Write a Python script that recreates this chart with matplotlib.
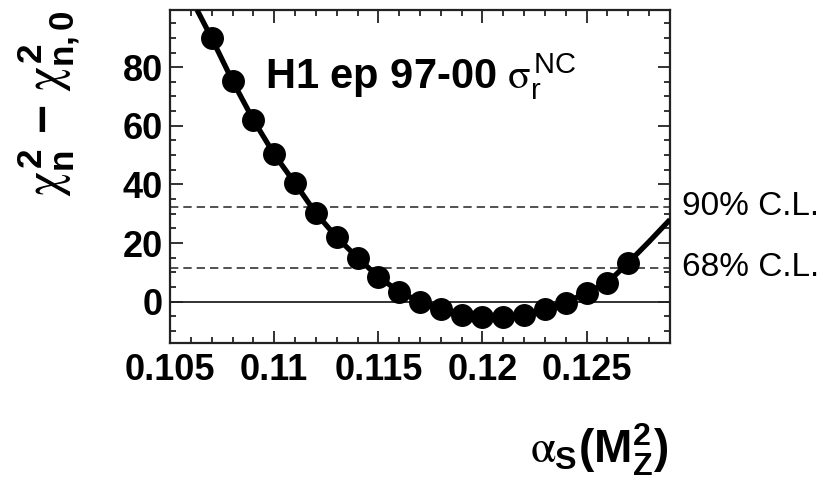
import numpy as np
import matplotlib.pyplot as plt
from matplotlib.ticker import MultipleLocator, FixedLocator, FixedFormatter
import matplotlib.transforms as mtransforms

plt.rcParams['font.family'] = ['Liberation Sans', 'DejaVu Sans']
plt.rcParams['mathtext.fontset'] = 'custom'
plt.rcParams['mathtext.rm'] = 'Liberation Sans'
plt.rcParams['mathtext.bf'] = 'Liberation Sans:bold'
plt.rcParams['mathtext.it'] = 'STIXGeneral'
plt.rcParams['mathtext.sf'] = 'Liberation Sans'

# chi2 scan points
alpha_s = [0.107, 0.108, 0.109, 0.110, 0.111, 0.112, 0.113, 0.114, 0.115,
           0.116, 0.117, 0.118, 0.119, 0.120, 0.121, 0.122, 0.123, 0.124,
           0.125, 0.126, 0.127]
dchi2 = [89.9, 75.3, 62.0, 50.3, 40.4, 30.2, 22.0, 15.0, 8.5,
         3.4, 0.0, -2.6, -4.5, -5.3, -5.1, -4.5, -2.6, -0.3,
         3.1, 6.5, 13.3]
# fitted curve (passes through the points, runs off the frame at both ends)
curve_x = [0.1063] + alpha_s + [0.128, 0.129]
curve_y = [99.5] + dchi2 + [20.5, 28.0]

cl_levels = [32.4, 11.6]
cl_labels = ['90% C.L.', '68% C.L.']

xticks = [0.105, 0.11, 0.115, 0.12, 0.125]
xtick_labels = ['0.105', '0.11', '0.115', '0.12', '0.125']
yticks = [0, 20, 40, 60, 80]
ytick_labels = ['0', '20', '40', '60', '80']

fig = plt.figure(figsize=(8.33, 5.03), dpi=100)
ax = fig.add_axes([0.2041, 0.3175, 0.6002, 0.6626])

ax.plot(curve_x, curve_y, color='black', linewidth=3.8, solid_capstyle='butt', zorder=3)
ax.plot(alpha_s, dchi2, 'o', color='black', markersize=15.5, zorder=4)

ax.axhline(0, color='#222222', linewidth=1.3, zorder=2)
for lev in cl_levels:
    ax.axhline(lev, color='#333333', linewidth=1.2, dashes=(5, 3), zorder=2)

ax.set_xlim(0.105, 0.129)
ax.set_ylim(-14.2, 99.5)

ax.xaxis.set_major_locator(FixedLocator(xticks))
ax.xaxis.set_major_formatter(FixedFormatter(xtick_labels))
ax.xaxis.set_minor_locator(MultipleLocator(0.001))
ax.yaxis.set_major_locator(FixedLocator(yticks))
ax.yaxis.set_major_formatter(FixedFormatter(ytick_labels))
ax.yaxis.set_minor_locator(MultipleLocator(5))

ax.tick_params(which='both', direction='in', top=True, right=True,
               color='#222222', width=1.3)
ax.tick_params(which='major', length=9)
ax.tick_params(which='minor', length=4.5)
ax.tick_params(axis='x', which='major', pad=7, labelsize=26)
ax.tick_params(axis='y', which='major', pad=5, labelsize=26)
for lab in ax.get_xticklabels() + ax.get_yticklabels():
    lab.set_fontweight('bold')
for sp in ax.spines.values():
    sp.set_linewidth(1.6)
    sp.set_color('#222222')

trans = mtransforms.blended_transform_factory(ax.transAxes, ax.transData)
for lev, lab in zip(cl_levels, cl_labels):
    ax.text(1.025, lev, lab, transform=trans, fontsize=24, ha='left', va='center',
            clip_on=False)

ax.text(0.19, 0.80, r'H1 ep 97-00 $\sigma_{\mathrm{r}}^{\mathrm{NC}}$',
        transform=ax.transAxes, fontsize=30, fontweight='bold', ha='left', va='center')

fig.text(0.058, 0.795,
         r'$\chi^{\mathbf{2}}_{\mathbf{n}}\ \mathbf{-}\ \chi^{\mathbf{2}}_{\mathbf{n,0}}$',
         rotation=90, fontsize=36, ha='center', va='center')
fig.text(0.802, 0.105, r'$\alpha_{\mathbf{S}}\mathbf{(M^{2}_{Z})}$',
         fontsize=33, ha='right', va='center')

fig.savefig('out.png', dpi=100)
